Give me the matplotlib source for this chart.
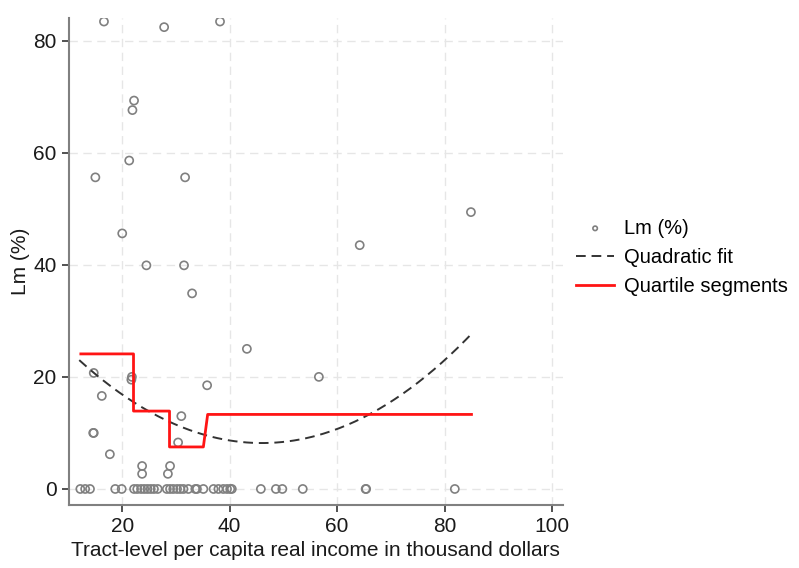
import numpy as np
import matplotlib.pyplot as plt

plt.rcParams['font.family'] = ['Liberation Sans', 'DejaVu Sans']

# scatter points: income (thousand $), Lm (%)
inc_pos = [16.6, 27.8, 38.2, 22.2, 21.9, 21.3, 15.0, 31.7, 20.0, 24.5,
           31.5, 33.0, 84.9, 64.2, 43.2, 56.6, 35.8, 14.7, 21.7, 21.8,
           16.2, 14.6, 14.7, 17.7, 31.0, 30.4, 23.7, 23.7, 28.9, 28.5]
lm_pos = [83.4, 82.4, 83.4, 69.3, 67.6, 58.6, 55.6, 55.6, 45.6, 39.9,
          39.9, 34.9, 49.4, 43.5, 25.0, 20.0, 18.5, 20.7, 19.5, 20.0,
          16.6, 10.0, 10.0, 6.2, 13.0, 8.3, 4.1, 2.7, 4.1, 2.7]
inc_zero = [12.2, 13.1, 14.0, 18.7, 19.9, 22.2, 22.8, 23.5, 24.1, 24.7,
            25.3, 25.9, 26.6, 28.3, 28.9, 29.5, 30.2, 30.8, 31.4, 32.3,
            33.6, 33.9, 35.1, 37.0, 37.9, 38.8, 39.5, 40.1, 40.4, 45.8,
            48.6, 49.8, 53.6, 65.3, 65.4, 81.9]

income = np.array(inc_pos + inc_zero)
lm = np.array(lm_pos + [0.0] * len(inc_zero))

# quadratic fit coefficients
quad_coef = [0.0128, -1.1776, 35.28]
fit_range = [12.0, 85.0]

# quartile segments
seg_x = [12.3, 22.1, 22.1, 28.8, 28.8, 35.1, 35.9, 85.0]
seg_y = [24.1, 24.1, 13.9, 13.9, 7.5, 7.5, 13.3, 13.3]

fig = plt.figure(figsize=(7.99, 5.68), dpi=100)
ax = fig.add_axes([0.0864, 0.111, 0.618, 0.857])

ax.grid(True, color='#e6e6e6', linestyle=(0, (6, 4)), linewidth=1.0)
ax.set_axisbelow(True)

ax.scatter(income, lm, s=34, facecolors='none', edgecolors='#808080',
           linewidths=1.2, label='Lm (%)', zorder=3)

xf = np.linspace(fit_range[0], fit_range[1], 200)
ax.plot(xf, np.polyval(quad_coef, xf), color='#333333', linestyle=(0, (5, 3)),
        linewidth=1.4, label='Quadratic fit', zorder=4)
ax.plot(seg_x, seg_y, color='#ff1414', linewidth=2.0,
        label='Quartile segments', zorder=5)

ax.set_xlim(10.1, 102)
ax.set_ylim(-2.85, 84)
ax.set_xticks([20, 40, 60, 80, 100])
ax.set_yticks([0, 20, 40, 60, 80])

for side in ['top', 'right']:
    ax.spines[side].set_visible(False)
for side in ['left', 'bottom']:
    ax.spines[side].set_color('#808080')
    ax.spines[side].set_linewidth(1.5)
ax.tick_params(axis='both', labelsize=15, length=5, width=1.2,
               color='#333333', labelcolor='#1a1a1a', pad=4)

ax.set_xlabel('Tract-level per capita real income in thousand dollars',
              fontsize=15, color='#1a1a1a', labelpad=3)
ax.set_ylabel('Lm (%)', fontsize=15, color='#1a1a1a', labelpad=2)

leg = ax.legend(loc='center left', bbox_to_anchor=(0.99, 0.509), frameon=False,
                fontsize=14.5, markerscale=0.55, handlelength=1.9,
                handletextpad=0.5, labelspacing=0.5)

plt.savefig('out.png', dpi=100)
